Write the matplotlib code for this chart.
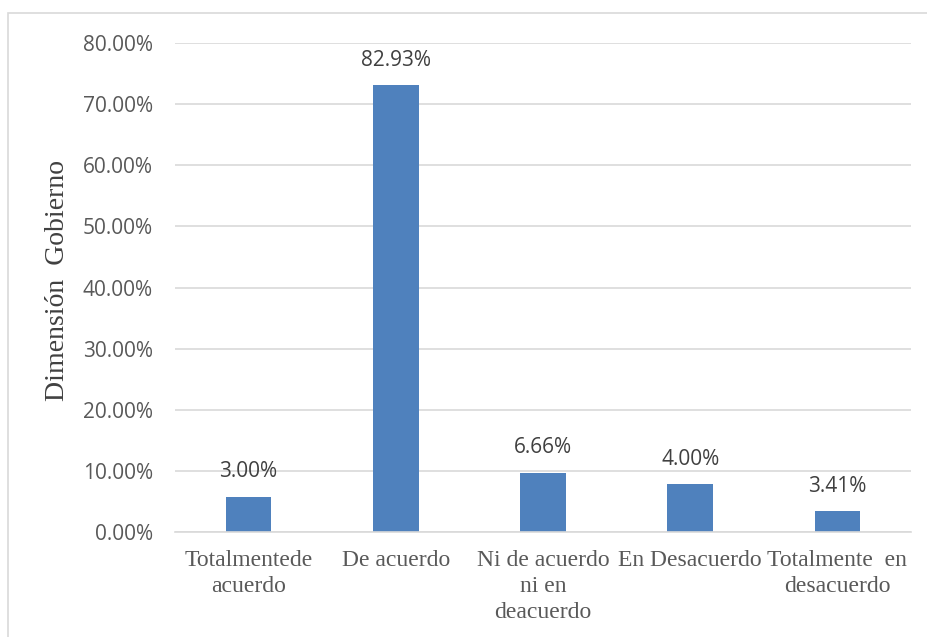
import matplotlib.pyplot as plt
from matplotlib.patches import Rectangle
from matplotlib.ticker import PercentFormatter

# Datos
categorias = ['Totalmentede\nacuerdo', 'De acuerdo', 'Ni de acuerdo\nni en\ndeacuerdo',
              'En Desacuerdo', 'Totalmente  en\ndesacuerdo']
alturas = [0.058, 0.731, 0.097, 0.078, 0.034]
etiquetas = ['3.00%', '82.93%', '6.66%', '4.00%', '3.41%']

fig = plt.figure(figsize=(9.28, 6.37), dpi=100)
ax = fig.add_axes([175/928, 1 - 532/637, (911 - 175)/928, (532 - 43)/637])

# marco exterior
fig.patches.append(Rectangle((8/928, -0.1), 1.2, 1.1 - 13/637, transform=fig.transFigure,
                             fill=False, edgecolor='#d9d9d9', linewidth=1.2))

x = range(len(categorias))
barras = ax.bar(x, alturas, width=0.31, color='#4f81bd')

for b, et in zip(barras, etiquetas):
    ax.annotate(et, (b.get_x() + b.get_width()/2, b.get_height()), xytext=(0, 18),
                textcoords='offset points', ha='center', va='center',
                fontsize=15, family='Open Sans', color='#404040')

ax.set_xlim(-0.5, 4.5)
ax.set_ylim(0, 0.8)
ax.set_yticks([i/10 for i in range(9)])
ax.yaxis.set_major_formatter(PercentFormatter(1.0, decimals=2))
ax.grid(axis='y', color='#d9d9d9', linewidth=1.2)
ax.set_axisbelow(True)
for s in ['top', 'right', 'left']:
    ax.spines[s].set_visible(False)
ax.spines['bottom'].set_color('#d9d9d9')
ax.spines['bottom'].set_linewidth(1.2)
ax.tick_params(length=0)
ax.tick_params(axis='y', pad=16, labelsize=15, labelcolor='#595959')
for t in ax.get_yticklabels():
    t.set_family('Open Sans')

ax.set_xticks(list(x))
ax.set_xticklabels(categorias, family='Liberation Serif', fontsize=17, color='#595959',
                   linespacing=1.3)
ax.tick_params(axis='x', pad=13)

ax.set_ylabel('Dimensión  Gobierno', family='Liberation Serif', fontsize=20, color='#404040')
ax.yaxis.set_label_coords(-0.143, 0.515)

fig.savefig('out.png', dpi=100)
